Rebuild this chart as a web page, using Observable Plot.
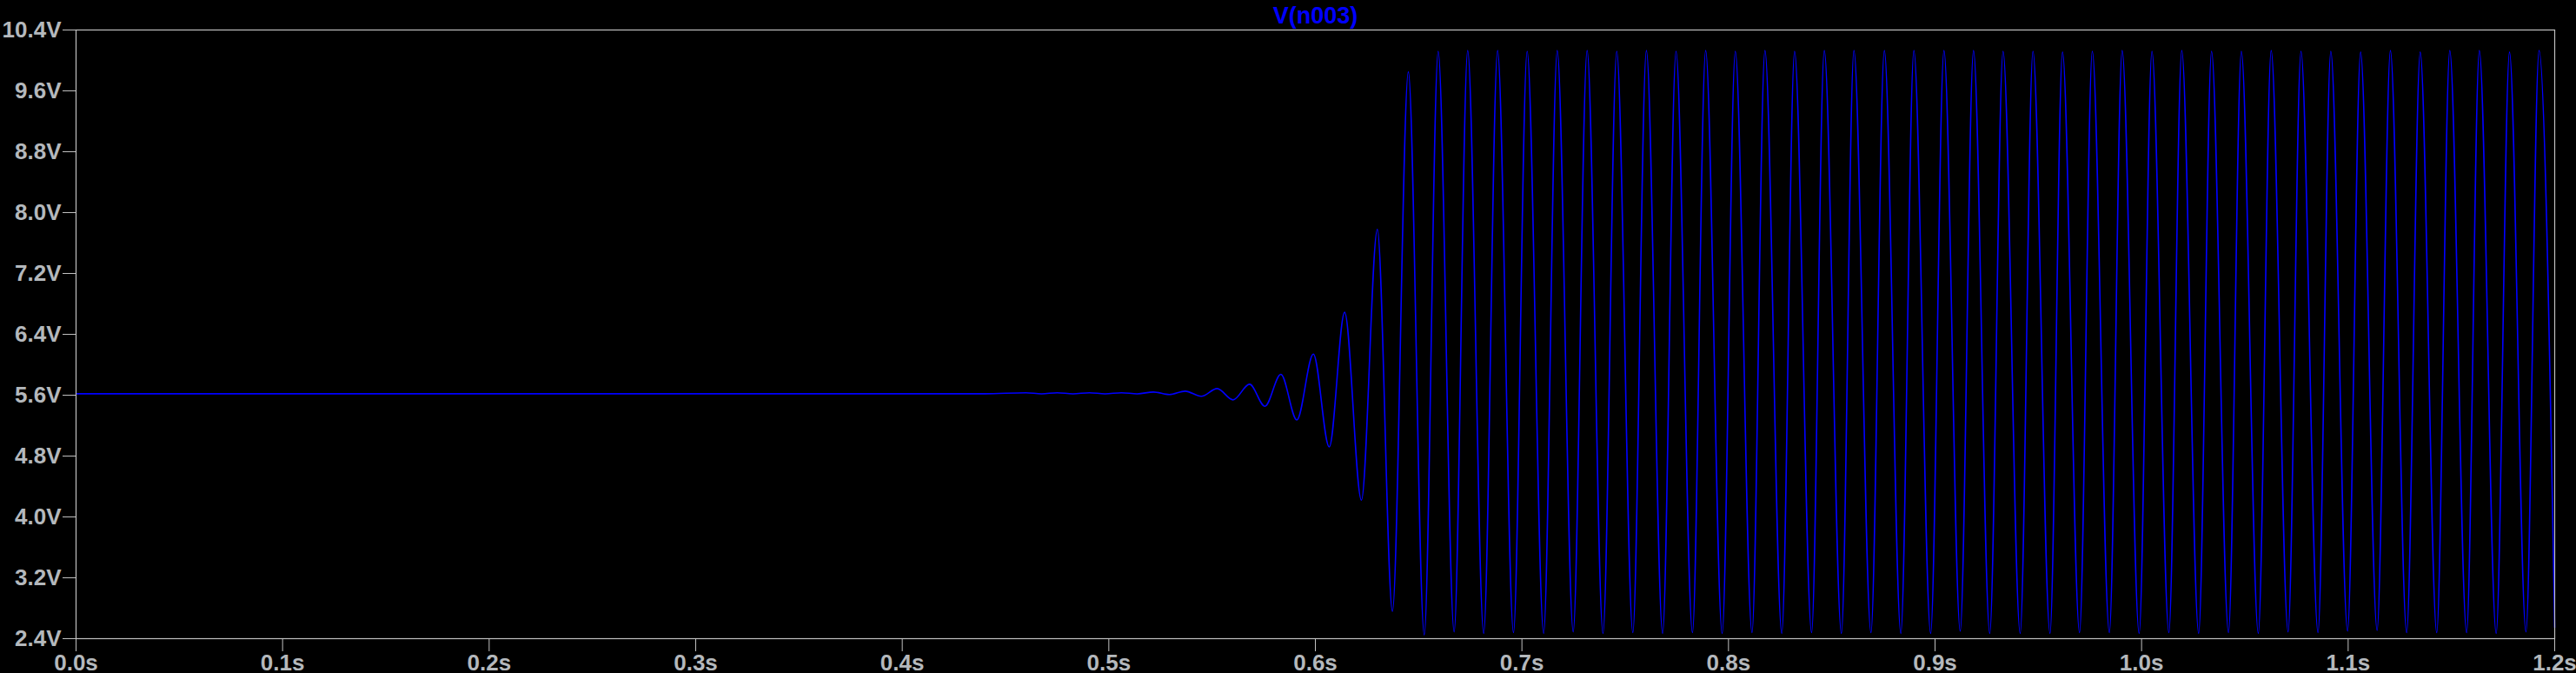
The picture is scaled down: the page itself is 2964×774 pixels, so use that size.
<!DOCTYPE html>
<html>
<head>
<meta charset="utf-8">
<script src="https://cdn.jsdelivr.net/npm/d3@7"></script>
<script src="https://cdn.jsdelivr.net/npm/@observablehq/plot@0.6"></script>
<style>
  html, body { margin: 0; padding: 0; background: #000; overflow: hidden; }
  #chart { width: 2964px; height: 774px; }
  #chart svg { display: block; }
</style>
</head>
<body>
<div id="chart"></div>
<script>
// ---- data (time in s, voltage in V) ----
const title = "V(n003)";
const xTicks = [0, 0.1, 0.2, 0.3, 0.4, 0.5, 0.6, 0.7, 0.8, 0.9, 1.0, 1.1, 1.2];
const yTicks = [2.4, 3.2, 4.0, 4.8, 5.6, 6.4, 7.2, 8.0, 8.8, 9.6, 10.4];

// quiet operating point before oscillation starts
const quietT = [0.0, 0.2, 0.44];
const quietV = [5.619, 5.619, 5.619];

// growing oscillation (alternating local max / min)
const growthT = [0.45988, 0.46745, 0.47503, 0.48260, 0.49059, 0.49817, 0.50616, 0.51374,
  0.52160, 0.52930, 0.53700, 0.54474, 0.55245, 0.56014, 0.56815, 0.57559, 0.58329, 0.59103,
  0.59902, 0.60672, 0.61417, 0.62229, 0.63000, 0.63732, 0.64501];
const growthV = [5.632, 5.618, 5.632, 5.618, 5.632, 5.618, 5.632, 5.618,
  5.642, 5.608, 5.653, 5.585, 5.687, 5.539, 5.744, 5.455, 5.874, 5.276,
  6.14, 4.92, 6.69, 4.22, 7.78, 2.76, 9.85];

// steady clipped oscillation: peaks
const peakT = [0.65945, 0.67375, 0.68822, 0.70253, 0.71709, 0.73156, 0.74591, 0.76026,
  0.77460, 0.78895, 0.80330, 0.81765, 0.83200, 0.84638, 0.86073, 0.87546, 0.88976, 0.90432,
  0.91863, 0.93293, 0.94741, 0.96171, 0.97614, 0.99058, 1.00501, 1.01944, 1.03387, 1.04830,
  1.06273, 1.07716, 1.09160, 1.10603, 1.12046, 1.13489, 1.14920, 1.16351, 1.17811, 1.19241];
const peakV = [10.12, 10.13, 10.13, 10.12, 10.13, 10.13, 10.12, 10.13,
  10.12, 10.13, 10.12, 10.13, 10.12, 10.13, 10.13, 10.13, 10.13, 10.13,
  10.13, 10.12, 10.12, 10.11, 10.12, 10.13, 10.12, 10.13, 10.12, 10.12,
  10.13, 10.12, 10.12, 10.11, 10.13, 10.11, 10.13, 10.13, 10.11, 10.13];

// steady clipped oscillation: troughs
const troughT = [0.65271, 0.66718, 0.68149, 0.69592, 0.71052, 0.72483, 0.73926, 0.75369,
  0.76812, 0.78256, 0.79695, 0.81138, 0.82581, 0.84024, 0.85467, 0.86898, 0.88345, 0.89788,
  0.91219, 0.92649, 0.94122, 0.95565, 0.96996, 0.98439, 0.99882, 1.01321, 1.02764, 1.04207,
  1.05650, 1.07093, 1.08541, 1.09972, 1.11402, 1.12833, 1.14289, 1.15736, 1.17167, 1.18609];
const troughV = [2.45, 2.49, 2.47, 2.48, 2.47, 2.49, 2.47, 2.48,
  2.47, 2.48, 2.47, 2.48, 2.47, 2.48, 2.47, 2.48, 2.47, 2.47,
  2.50, 2.47, 2.47, 2.47, 2.48, 2.48, 2.47, 2.48, 2.47, 2.48,
  2.47, 2.49, 2.48, 2.50, 2.51, 2.48, 2.48, 2.48, 2.47, 2.49];

// end of the trace
const endT = [1.2];
const endV = [2.55];

// ---- build table ----
function pairs(ts, vs) { return ts.map((t, i) => ({t, v: vs[i]})); }
const trace = [
  ...pairs(quietT, quietV),
  ...pairs(growthT, growthV),
  ...pairs(peakT, peakV),
  ...pairs(troughT, troughV),
  ...pairs(endT, endV)
].sort((a, b) => a.t - b.t);

const axisColor = "#c0c0c0";
const labelColor = "#b4b8bc";

const chart = Plot.plot({
  width: 2964,
  height: 774,
  marginLeft: 87,
  marginRight: 25,
  marginTop: 34,
  marginBottom: 40,
  style: {
    background: "#000",
    color: labelColor,
    fontFamily: "'Liberation Sans', Arial, sans-serif",
    fontSize: "26px",
    fontWeight: "bold"
  },
  x: {domain: [0, 1.2], ticks: xTicks, tickFormat: d => d.toFixed(1) + "s", tickSize: 15, tickPadding: 3, label: null},
  y: {domain: [2.4, 10.4], ticks: yTicks, tickFormat: d => d.toFixed(1) + "V", tickSize: 15, tickPadding: 2, label: null},
  marks: [
    Plot.line(trace, {x: "t", y: "v", stroke: "#0000ff", strokeWidth: 1.6, curve: "monotone-x"}),
    Plot.frame({stroke: axisColor, strokeWidth: 1.2}),
    Plot.axisX({ticks: xTicks, tickFormat: d => d.toFixed(1) + "s", tickSize: 15, tickPadding: 3, stroke: axisColor, fill: labelColor, label: null}),
    Plot.axisY({ticks: yTicks, tickFormat: d => d.toFixed(1) + "V", tickSize: 15, tickPadding: 2, stroke: axisColor, fill: labelColor, label: null}),
    Plot.text([title], {frameAnchor: "top", text: d => d, dy: -8, lineAnchor: "bottom", fill: "#0000ff", fontSize: 27, fontWeight: "bold"})
  ]
});
document.getElementById("chart").appendChild(chart);
</script>
</body>
</html>
